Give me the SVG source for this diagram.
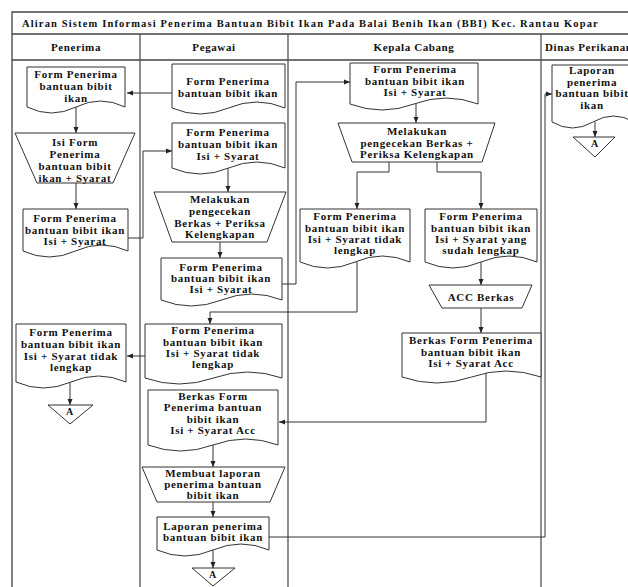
<svg xmlns="http://www.w3.org/2000/svg" width="628" height="587" viewBox="0 0 628 587">
<style>
.frame{stroke:#444;stroke-width:1.3;fill:none}
.lane{stroke:#555;stroke-width:1.3;fill:none}
.shape{fill:#fff;stroke:#333;stroke-width:1}
.c{fill:none;stroke:#333;stroke-width:1;marker-end:url(#ah)}
text{font-family:"Liberation Serif","Times New Roman",serif;font-weight:bold;font-size:11px;letter-spacing:0.7px;fill:#111;text-anchor:middle}
.title{font-size:10.5px;letter-spacing:0.3px;text-anchor:start}
.hdr{font-size:11px;letter-spacing:0.6px}
</style>
<defs>
<marker id="ah" markerWidth="6" markerHeight="6" refX="6" refY="3" orient="auto" markerUnits="userSpaceOnUse"><path d="M0,0.5 L6,3 L0,5.5 Z" fill="#222"/></marker>
</defs>
<rect width="628" height="587" fill="#fff"/>
<g id="frame">
<path class="frame" d="M12,587 V12 H628"/>
<path class="frame" d="M12,34 H628 M12,60 H628"/>
<path class="lane" d="M140,34 V587 M288,34 V587 M541,34 V587"/>
<text class="title" x="22" y="27" textLength="576" lengthAdjust="spacing">Aliran Sistem Informasi Penerima Bantuan Bibit Ikan Pada Balai Benih Ikan (BBI) Kec. Rantau Kopar</text>
<text class="hdr" x="76" y="51">Penerima</text>
<text class="hdr" x="214" y="51">Pegawai</text>
<text class="hdr" x="414" y="51">Kepala Cabang</text>
<text class="hdr" x="545" y="51" style="text-anchor:start">Dinas Perikanan</text>
</g>
<g id="connectors">
<path class="c" d="M172,93 H127"/>
<path class="c" d="M76,107 V133"/>
<path class="c" d="M76,183 V209"/>
<path class="c" d="M128,238 H143 V151 H172"/>
<path class="c" d="M228,168 V192"/>
<path class="c" d="M220,242 V258"/>
<path class="c" d="M282,284 H296 V82 H350"/>
<path class="c" d="M416,104 V123"/>
<path class="c" d="M389,162 V172 H357 V209"/>
<path class="c" d="M437,162 V172 H481 V209"/>
<path class="c" d="M357,262 V312 H210 V324"/>
<path class="c" d="M481,262 V285"/>
<path class="c" d="M481,308 V333"/>
<path class="c" d="M486,372 V422 H279"/>
<path class="c" d="M145,356 H127"/>
<path class="c" d="M70,382 V405"/>
<path class="c" d="M213,445 V467"/>
<path class="c" d="M213,502 V517"/>
<path class="c" d="M213,550 V568"/>
<path class="c" d="M269,537 H545 V94 H552"/>
<path class="c" d="M595,122 V137"/>
</g>
<g id="p-form">
<path class="shape" d="M27,67 H125 V107 Q100.5,95 76,107 T27,107 Z"/>
<text x="76" y="78">Form Penerima</text><text x="76" y="90">bantuan bibit</text><text x="76" y="102">ikan</text>
</g>
<g id="p-isi">
<polygon class="shape" points="15,133 135,133 113,183 37,183"/>
<text x="75" y="146">Isi Form</text><text x="75" y="158">Penerima</text><text x="75" y="170">bantuan bibit</text><text x="75" y="181.5">ikan  + Syarat</text>
</g>
<g id="p-form-isi">
<path class="shape" d="M23,209 H128 V251 Q101.75,239 75.5,251 T23,251 Z"/>
<text x="75" y="222">Form Penerima</text><text x="75" y="234">bantuan bibit ikan</text><text x="75" y="245">Isi + Syarat</text>
</g>
<g id="p-tidak">
<path class="shape" d="M16,324 H126 V382 Q98.5,370 71,382 T16,382 Z"/>
<text x="71" y="336">Form Penerima</text><text x="71" y="348">bantuan bibit ikan</text><text x="71" y="360">Isi + Syarat tidak</text><text x="71" y="371">lengkap</text>
</g>
<g id="p-a">
<polygon class="shape" points="48,405 93,405 70,424"/>
<text x="70" y="415" style="font-size:10px">A</text>
</g>
<g id="g-form">
<path class="shape" d="M172,64 H285 V108 Q256.75,96 228.5,108 T172,108 Z"/>
<text x="228" y="85">Form Penerima</text><text x="228" y="97">bantuan bibit ikan</text>
</g>
<g id="g-form-isi">
<path class="shape" d="M172,123 H285 V168 Q256.75,156 228.5,168 T172,168 Z"/>
<text x="228" y="136">Form Penerima</text><text x="228" y="148">bantuan bibit ikan</text><text x="228" y="160">Isi + Syarat</text>
</g>
<g id="g-cek">
<polygon class="shape" points="154,192 286,192 267,242 172,242"/>
<text x="220" y="203">Melakukan</text><text x="220" y="215">pengecekan</text><text x="220" y="227">Berkas + Periksa</text><text x="220" y="238">Kelengkapan</text>
</g>
<g id="g-form-isi2">
<path class="shape" d="M161,258 H282 V300 Q251.75,288 221.5,300 T161,300 Z"/>
<text x="221" y="271">Form Penerima</text><text x="221" y="282">bantuan bibit ikan</text><text x="221" y="293">Isi + Syarat</text>
</g>
<g id="g-tidak">
<path class="shape" d="M145,324 H282 V378 Q247.75,366 213.5,378 T145,378 Z"/>
<text x="213" y="334">Form Penerima</text><text x="213" y="346">bantuan bibit ikan</text><text x="213" y="357">Isi + Syarat tidak</text><text x="213" y="368">lengkap</text>
</g>
<g id="g-berkas">
<path class="shape" d="M148,390 H278 V445 Q245.5,433 213,445 T148,445 Z"/>
<text x="213" y="400">Berkas Form</text><text x="213" y="411">Penerima bantuan</text><text x="213" y="423">bibit ikan</text><text x="213" y="434">Isi + Syarat Acc</text>
</g>
<g id="g-membuat">
<polygon class="shape" points="142,467 285,467 270,502 157,502"/>
<text x="213" y="477">Membuat laporan</text><text x="213" y="488">penerima bantuan</text><text x="213" y="499">bibit ikan</text>
</g>
<g id="g-laporan">
<path class="shape" d="M157,517 H269 V550 Q241,538 213,550 T157,550 Z"/>
<text x="213" y="530">Laporan penerima</text><text x="213" y="541">bantuan bibit ikan</text>
</g>
<g id="g-a">
<polygon class="shape" points="192,568 235,568 213,586"/>
<text x="213" y="578" style="font-size:10px">A</text>
</g>
<g id="k-form">
<path class="shape" d="M350,63 H478 V104 Q446,92 414,104 T350,104 Z"/>
<text x="415" y="73">Form Penerima</text><text x="415" y="84.5">bantuan bibit ikan</text><text x="415" y="96">Isi + Syarat</text>
</g>
<g id="k-cek">
<polygon class="shape" points="338,123 495,123 482,162 352,162"/>
<text x="417" y="135">Melakukan</text><text x="417" y="146.5">pengecekan Berkas +</text><text x="417" y="158">Periksa Kelengkapan</text>
</g>
<g id="k-tidak">
<path class="shape" d="M300,209 H410 V262 Q382.5,250 355,262 T300,262 Z"/>
<text x="355" y="220">Form Penerima</text><text x="355" y="232">bantuan bibit ikan</text><text x="355" y="243">Isi + Syarat tidak</text><text x="355" y="254">lengkap</text>
</g>
<g id="k-lengkap">
<path class="shape" d="M425,209 H537 V262 Q509,250 481,262 T425,262 Z"/>
<text x="481" y="220">Form Penerima</text><text x="481" y="232">bantuan bibit ikan</text><text x="481" y="243">Isi + Syarat yang</text><text x="481" y="254">sudah lengkap</text>
</g>
<g id="k-acc">
<polygon class="shape" points="429,285 532,285 522,308 442,308"/>
<text x="481" y="301">ACC Berkas</text>
</g>
<g id="k-berkas">
<path class="shape" d="M402,333 H541 V377 Q506.25,365 471.5,377 T402,377 Z"/>
<text x="471" y="344">Berkas Form Penerima</text><text x="471" y="356">bantuan bibit ikan</text><text x="471" y="367">Isi + Syarat Acc</text>
</g>
<g id="d-laporan">
<path class="shape" d="M552,65 H634 V122 Q613.5,110 593,122 T552,122 Z"/>
<text x="592" y="74">Laporan</text><text x="592" y="86">penerima</text><text x="592" y="97">bantuan bibit</text><text x="592" y="109">ikan</text>
</g>
<g id="d-a">
<polygon class="shape" points="573,137 615,137 595,157"/>
<text x="595" y="147" style="font-size:10px">A</text>
</g>
</svg>
